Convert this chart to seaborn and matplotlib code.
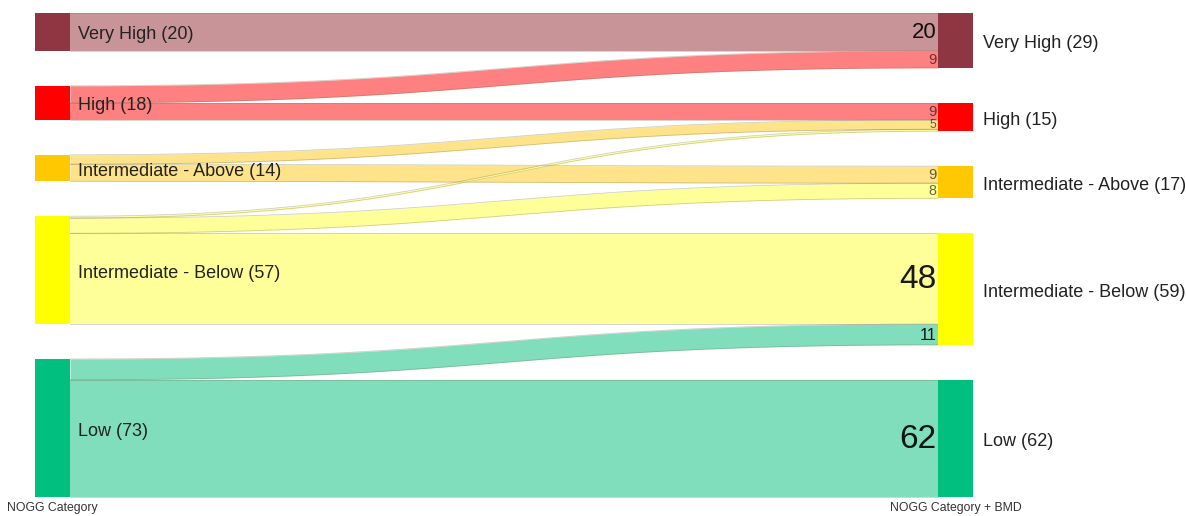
import numpy as np
import pandas as pd
import matplotlib
matplotlib.use("Agg")
import matplotlib.pyplot as plt
import seaborn as sns

# ---------------- data ----------------
categories = ["Very High", "High", "Intermediate - Above", "Intermediate - Below", "Low"]
node_colors = ["#8E3641", "#FF0000", "#FFC800", "#FFFF00", "#00BF7F"]
flow_colors = ["#C99497", "#FF8080", "#FFE38A", "#FFFF99", "#80DEBD"]

flow_source = ["Very High", "High", "High",
               "Intermediate - Above", "Intermediate - Above",
               "Intermediate - Below", "Intermediate - Below", "Intermediate - Below",
               "Low", "Low"]
flow_target = ["Very High", "Very High", "High",
               "High", "Intermediate - Above",
               "High", "Intermediate - Above", "Intermediate - Below",
               "Intermediate - Below", "Low"]
flow_values = [20, 9, 9, 5, 9, 1, 8, 48, 11, 62]

left_axis_label = "NOGG Category"
right_axis_label = "NOGG Category + BMD"

# ---------------- layout ----------------
GAP = 18.5            # gap between nodes (value units)
LX0, LX1 = 35, 70     # left node x-extent
RX0, RX1 = 938, 973   # right node x-extent

sns.set_theme(style="white")
plt.rcParams["font.family"] = ["Liberation Sans", "DejaVu Sans"]

df = pd.DataFrame({"source": flow_source, "target": flow_target, "value": flow_values})
idx = {c: i for i, c in enumerate(categories)}
df["si"] = df["source"].map(idx)
df["ti"] = df["target"].map(idx)

left_tot = df.groupby("si")["value"].sum().reindex(range(len(categories)), fill_value=0)
right_tot = df.groupby("ti")["value"].sum().reindex(range(len(categories)), fill_value=0)

def node_tops(tot):
    tops, y = [], 0.0
    for v in tot:
        tops.append(y)
        y += v + GAP
    return np.array(tops)

left_top = node_tops(left_tot.values)
right_top = node_tops(right_tot.values)
total_h = left_top[-1] + left_tot.values[-1]

# flow offsets at source (ordered by target) and at target (ordered by source)
src_off = left_top.copy()
df = df.sort_values(["si", "ti"])
s_y0 = {}
for r in df.itertuples():
    s_y0[r.Index] = src_off[r.si]
    src_off[r.si] += r.value
tgt_off = right_top.copy()
t_y0 = {}
for r in df.sort_values(["ti", "si"]).itertuples():
    t_y0[r.Index] = tgt_off[r.ti]
    tgt_off[r.ti] += r.value

fig = plt.figure(figsize=(11.86, 5.16), dpi=100)
ax = fig.add_axes([0, 0, 1, 1])
px_per_unit = (497 - 13) / total_h
ax.set_xlim(0, 1186)
ax.set_ylim(total_h + 19 / px_per_unit, -13 / px_per_unit)
ax.axis("off")

# cubic bezier link shape (control points at horizontal midpoint)
u = np.linspace(0, 1, 400)
xs = LX1 + (RX0 - LX1) * (1.5 * u * (1 - u) + u ** 3)
s = 3 * u ** 2 - 2 * u ** 3

for i in sorted(s_y0.keys()):
    r = df.loc[i]
    y0s, y0t = s_y0[i], t_y0[i]
    top = y0s + (y0t - y0s) * s
    bot = top + r["value"]
    col = flow_colors[r["si"]]
    ax.fill_between(xs, top, bot, color=col, lw=0, zorder=2)
    ax.plot(xs, top, color="#777755", lw=0.6, alpha=0.35, zorder=3)
    ax.plot(xs, bot, color="#777755", lw=0.6, alpha=0.35, zorder=3)
    # value label at right end
    if r["value"] > 1:
        fs = min(24, 6.5 + r["value"] * 0.47)
        alpha = 0.9 if r["value"] >= 11 else 0.6
        ax.text(RX0 - 1.5, y0t + r["value"] / 2 + 0.4, str(r["value"]), ha="right",
                va="center", fontsize=fs, color="black", alpha=alpha, zorder=5)

# nodes
LABEL_SHIFT = 1.6
for i, c in enumerate(categories):
    ax.bar(LX0, left_tot.values[i], bottom=left_top[i], width=LX1 - LX0, align="edge",
           color=node_colors[i], lw=0, zorder=4)
    ax.bar(RX0, right_tot.values[i], bottom=right_top[i], width=RX1 - RX0, align="edge",
           color=node_colors[i], lw=0, zorder=4)
    ax.text(LX1 + 8, left_top[i] + left_tot.values[i] / 2 + LABEL_SHIFT,
            f"{c} ({left_tot.values[i]})",
            ha="left", va="center", fontsize=13, color="#222222", zorder=6)
    ax.text(RX1 + 10, right_top[i] + right_tot.values[i] / 2 + LABEL_SHIFT,
            f"{c} ({right_tot.values[i]})",
            ha="left", va="center", fontsize=13, color="#222222", zorder=6)

ax.text((LX0 + LX1) / 2, total_h + 6, left_axis_label, ha="center", va="center",
        fontsize=8.8, color="#333333")
ax.text((RX0 + RX1) / 2, total_h + 6, right_axis_label, ha="center", va="center",
        fontsize=8.8, color="#333333")

fig.savefig("out.png", dpi=100)
